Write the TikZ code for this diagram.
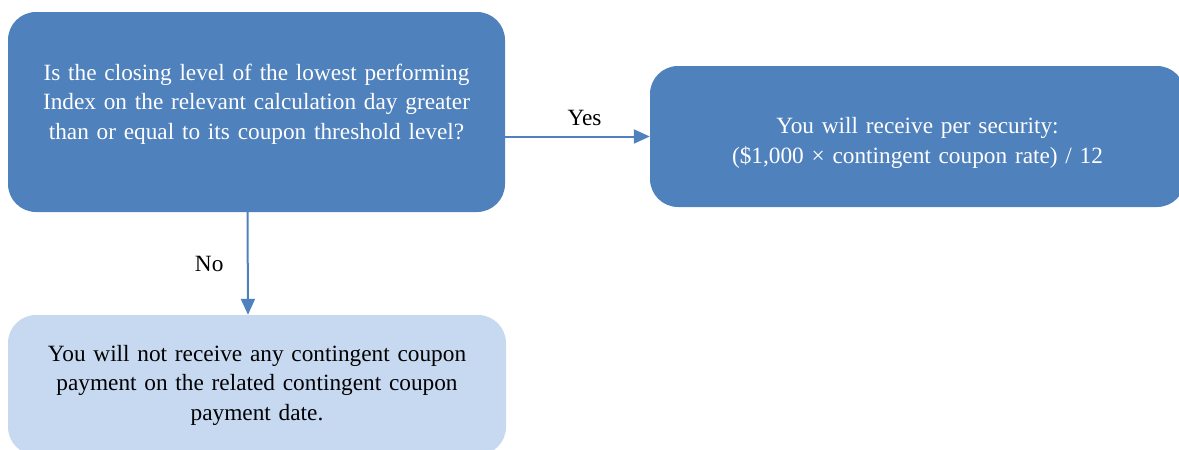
\documentclass[tikz,border=0pt]{standalone}
\usepackage{fontspec}
\setmainfont{Liberation Serif}
\usetikzlibrary{arrows.meta,positioning}
\definecolor{darkblue}{HTML}{4F81BD}
\definecolor{lightblue}{HTML}{C6D9F1}
\tikzset{x=1pt, y=-1pt,
        box/.style={ % rounded boxes of the chart
            rounded corners=28pt,
            align=center,
            inner sep=0pt,
            font=\fontsize{23.3}{29.5}\selectfont},
        darkbox/.style={box, fill=darkblue, text=white},
        lightbox/.style={box, fill=lightblue, text=black},
        link/.style={ % connectors
            draw=darkblue,
            line width=2pt,
            -{Triangle[length=16pt,width=14pt]}},
        tag/.style={font=\fontsize{23.3}{29}\selectfont}
        }
\begin{document}
\begin{tikzpicture}
    \useasboundingbox (0,0) rectangle (1179,450);
    \clip (0,0) rectangle (1179,450);

    \node[darkbox, minimum width=497pt, minimum height=200pt, text width=480pt]
        (question) at (256.5,112)
        {Is the closing level of the lowest performing\\
         Index on the relevant calculation day greater\\
         than or equal to its coupon threshold level?\\[-9pt]\mbox{}};
    \node[darkbox, minimum width=535pt, minimum height=141pt, text width=510pt]
        (coupon) at (917.5,136.5)
        {\mbox{}\\[0pt]You will receive per security:\\
         (\$1,000 × contingent coupon rate) / 12};
    \node[lightbox, minimum width=498pt, minimum height=140pt, text width=480pt]
        (nocoupon) at (257,385)
        {You will not receive any contingent coupon\\
         payment on the related contingent coupon\\
         payment date.};

    \draw[link] (question.east |- coupon.west) -- node[tag, above=6pt, xshift=7pt] {Yes} (coupon.west);
    \draw[link] ([xshift=-9pt]question.south) -- node[tag, left=20pt] {No} ([xshift=-9pt]nocoupon.north);
\end{tikzpicture}
\end{document}
